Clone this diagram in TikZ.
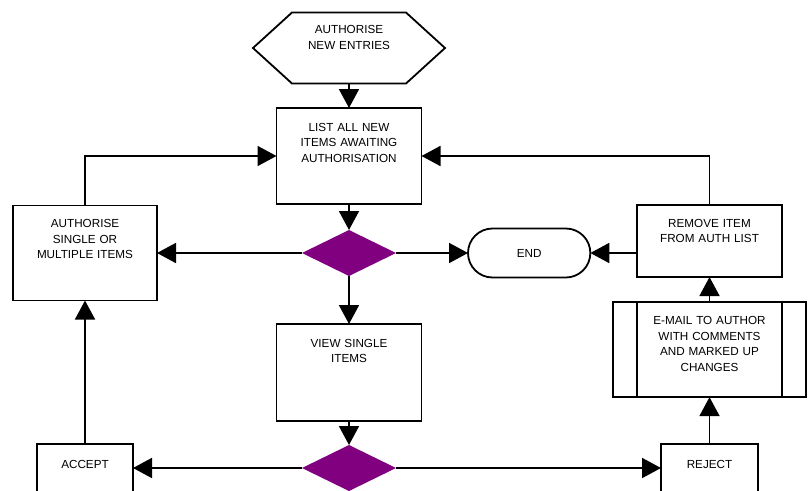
\documentclass[tikz,border=0pt]{standalone}
\usepackage{fontspec}
\setmainfont{Liberation Sans}
\usetikzlibrary{positioning}
\usetikzlibrary{shapes.geometric}
\usetikzlibrary{shapes.misc}
\usetikzlibrary{arrows.meta}

\definecolor{decpurple}{RGB}{128,0,128}

\begin{document}
\begin{tikzpicture}[x=1pt, y=-1pt,
  font=\fontsize{11.7}{15.5}\selectfont,
  stepbox/.style={draw, line width=1.8pt, text width=#1, align=center, inner sep=0pt, outer sep=0pt, text height=22.5pt},
  stepbox/.default=145pt,
  decision/.style={diamond, fill=decpurple, minimum width=94pt, minimum height=46pt, inner sep=0pt, outer sep=0pt},
  terminal/.style={rounded rectangle, draw, line width=1.8pt, minimum width=129pt, minimum height=49pt, outer sep=0pt},
  flow/.style={line width=1.8pt, -{Triangle[length=19pt,width=20pt]}}]
\useasboundingbox (0,0) rectangle (808,490);
\clip (0,0) rectangle (808,490);

% Define nodes
% Middle column
\node[stepbox=192pt, draw=none, text height=21.4pt, text depth=49.6pt] (start) at (349,48) {AUTHORISE\\NEW ENTRIES};
\node[stepbox, text height=23.4pt, text depth=72.6pt, below=24.5pt of start] (list) {LIST ALL NEW\\ITEMS AWAITING\\AUTHORISATION};
\node[decision, below=26pt of list] (dec1) {};
\node[stepbox, text height=23.4pt, text depth=73.6pt, below=48pt of dec1] (view) {VIEW SINGLE\\ITEMS};
\node[decision, below=24pt of view] (dec2) {};

% Left nodes
\node[stepbox=144pt, text depth=72.6pt, left=145pt of dec1] (auth) {AUTHORISE\\SINGLE OR\\MULTIPLE ITEMS};
\node[stepbox=96pt, text height=24.5pt, text depth=23.5pt, left=169pt of dec2] (accept) {ACCEPT};

% Right nodes
\node[terminal, right=72pt of dec1] (end) {END};
\node[stepbox, text depth=49.6pt] (remove) at (709.5,241) {REMOVE ITEM\\FROM AUTH LIST};
\node[stepbox=193pt, text depth=72.6pt, below=25pt of remove] (email) {E-MAIL TO AUTHOR\\WITH COMMENTS\\AND MARKED UP\\CHANGES};
\node[stepbox=97pt, text height=24.5pt, text depth=23.5pt, right=265pt of dec2] (reject) {REJECT};

% Outlines
\draw[line width=1.8pt] (start.west) -- ([xshift=39pt]start.north west) -- ([xshift=-39pt]start.north east)
  -- (start.east) -- ([xshift=-39pt]start.south east) -- ([xshift=39pt]start.south west) -- cycle;
\draw[line width=1.8pt] ([xshift=24pt]email.north west) -- ([xshift=24pt]email.south west);
\draw[line width=1.8pt] ([xshift=-24pt]email.north east) -- ([xshift=-24pt]email.south east);

% Edges
\draw[flow] (start) -- (list);
\draw[flow] (list) -- (dec1);
\draw[flow] (dec1) -- (auth);
\draw[flow] (dec1) -- (end);
\draw[flow] (dec1) -- (view);
\draw[flow] (view) -- (dec2);
\draw[flow] (dec2) -- (accept);
\draw[flow] (dec2) -- (reject);
\draw[flow] (accept) -- (auth);
\draw[flow] (reject) -- (email);
\draw[flow] (email) -- (remove);
\draw[flow] (end -| remove.west) -- (end);
\draw[flow] (auth) |- (list);
\draw[flow] (remove) |- (list);
\end{tikzpicture}
\end{document}
